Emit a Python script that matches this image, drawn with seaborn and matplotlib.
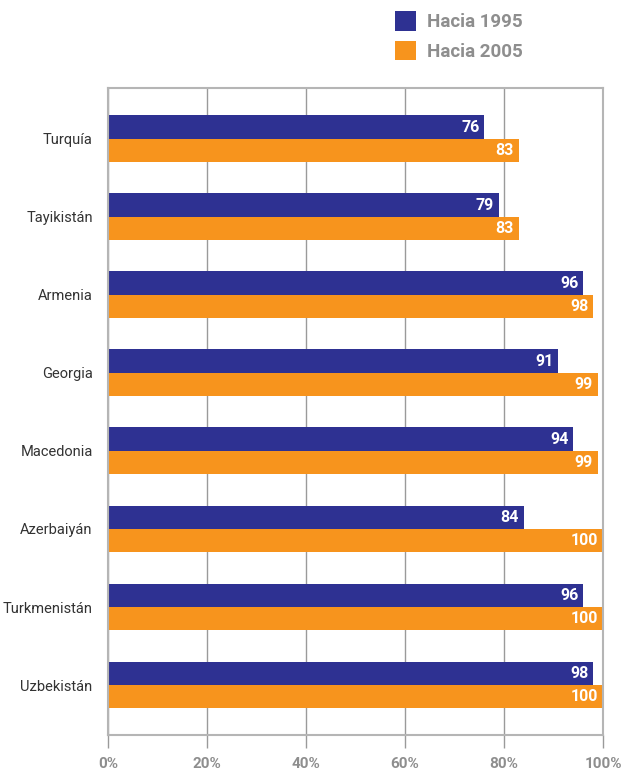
import pandas as pd
import matplotlib.pyplot as plt
import seaborn as sns

countries = ["Turquía", "Tayikistán", "Armenia", "Georgia", "Macedonia",
             "Azerbaiyán", "Turkmenistán", "Uzbekistán"]
values_1995 = [76, 79, 96, 91, 94, 84, 96, 98]
values_2005 = [83, 83, 98, 99, 99, 100, 100, 100]
series = ["Hacia 1995", "Hacia 2005"]
colors = ["#2E3192", "#F7941D"]
x_ticks = [0, 20, 40, 60, 80, 100]
x_ticklabels = ["0%", "20%", "40%", "60%", "80%", "100%"]


def main():
    df = pd.DataFrame({
        "pais": countries * 2,
        "serie": [series[0]] * len(countries) + [series[1]] * len(countries),
        "valor": values_1995 + values_2005,
    })

    sns.set_style("white")
    plt.rcParams["font.family"] = ["Roboto", "DejaVu Sans"]

    fig = plt.figure(figsize=(6.21, 7.73), dpi=100)
    ax = fig.add_axes([108 / 621, 38 / 773, 495 / 621, 647 / 773])

    sns.barplot(data=df, y="pais", x="valor", hue="serie", hue_order=series,
                order=countries, palette=colors, orient="h", width=0.6,
                saturation=1, linewidth=0, ax=ax)

    ax.set_xlim(0, 100)
    ax.set_ylim(7.64, -0.65)
    ax.set_xlabel("")
    ax.set_ylabel("")

    # vertical grid behind bars
    ax.set_axisbelow(True)
    ax.grid(axis="x", color="#9a9a9a", linewidth=1.0)
    ax.grid(axis="y", visible=False)
    for sp in ax.spines.values():
        sp.set_color("#b5b5b5")
        sp.set_linewidth(1.5)

    ax.set_xticks(x_ticks)
    ax.set_xticklabels(x_ticklabels, fontsize=11, fontweight="bold",
                       color="#8e8e8e")
    ax.tick_params(axis="x", length=9, width=1, color="#9a9a9a",
                   pad=7, bottom=True)
    ax.tick_params(axis="y", length=0, pad=11, labelsize=10.5,
                   labelcolor="#333333")

    # value labels inside bar ends
    for cont in ax.containers:
        for bar in cont:
            w = bar.get_width()
            ax.text(w - 1.0, bar.get_y() + bar.get_height() / 2, f"{w:.0f}",
                    ha="right", va="center", color="white",
                    fontsize=11.5, fontweight="bold")

    sns.move_legend(ax, "upper left", bbox_to_anchor=(395 / 621, 1 - 11 / 773),
                    bbox_transform=fig.transFigure, frameon=False, title=None,
                    fontsize=13.5, handlelength=1.1, handleheight=1.25,
                    labelspacing=0.5, handletextpad=0.6, borderpad=0,
                    borderaxespad=0)
    leg = ax.get_legend()
    for t in leg.get_texts():
        t.set_color("#8e8e8e")
        t.set_fontweight("bold")

    plt.savefig("out.png", dpi=100)


if __name__ == "__main__":
    main()
